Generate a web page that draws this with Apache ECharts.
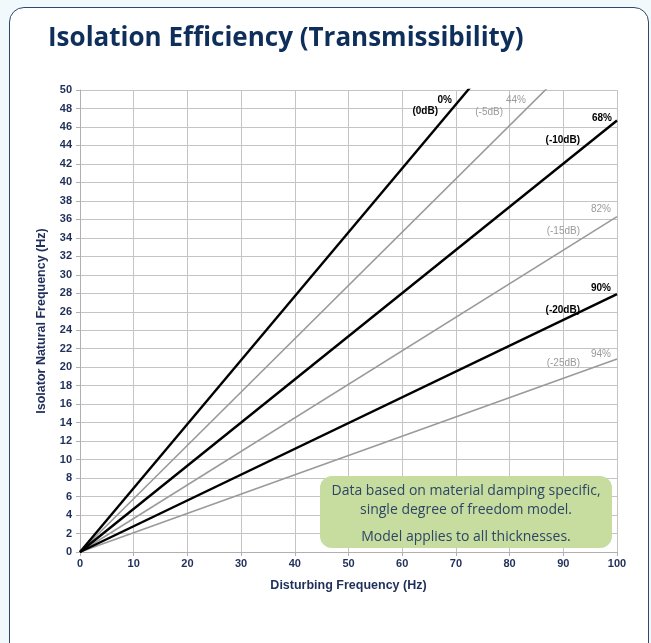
<!DOCTYPE html>
<html>
<head>
<meta charset="utf-8">
<script src="https://cdn.jsdelivr.net/npm/echarts@6/dist/echarts.min.js"></script>
<style>
  html, body { margin: 0; padding: 0; background: #f2f9fd; }
  #frame { position: absolute; left: 9px; top: 7px; width: 638px; height: 660px;
           border: 1.3px solid #2b4a6e; border-radius: 15px; background: #fff; }
  #main { position: absolute; left: 0; top: 0; width: 651px; height: 643px; }
</style>
</head>
<body>
<div id="frame"></div>
<div id="main"></div>
<script>
// 干扰频率 (Hz)
var xTicks = [0, 100];
// 各隔振效率曲线在 100Hz 处的固有频率值
var effNames = ['0%', '44%', '68%', '82%', '90%', '94%'];
var dbNames = ['(0dB)', '(-5dB)', '(-10dB)', '(-15dB)', '(-20dB)', '(-25dB)'];
var endValues = [69.2, 57.7, 46.7, 36.3, 27.9, 20.9];
var isDark = [true, false, true, false, true, false];
var noteLines = [
    'Data based on material damping specific,',
    'single degree of freedom model.',
    'Model applies to all thicknesses.'
];

var navy = '#1f2f5a';
var gray = '#9a9a9a';

var series = effNames.map(function (name, i) {
    return {
        name: name,
        type: 'line',
        symbol: 'none',
        clip: true,
        silent: true,
        lineStyle: { color: isDark[i] ? '#000' : gray, width: isDark[i] ? 2.4 : 1.6 },
        data: [[xTicks[0], 0], [xTicks[1], endValues[i]]],
        z: isDark[i] ? 4 : 3
    };
});

// 标注位置 (像素)
var labelPos = [
    { e: [452, 100], d: [438, 111] },
    { e: [526, 100], d: [503, 112] },
    { e: [612, 118], d: [580, 140] },
    { e: [611, 209], d: [580, 231] },
    { e: [611, 288], d: [580, 310] },
    { e: [611, 354], d: [580, 363] }
];
var graphics = [];
effNames.forEach(function (name, i) {
    var c = isDark[i] ? '#000' : gray;
    var fw = isDark[i] ? 'bold' : 'normal';
    graphics.push({ type: 'text', x: labelPos[i].e[0], y: labelPos[i].e[1], z: 10,
        style: { text: name, fill: c, font: fw + ' 10px "Liberation Sans", Arial', textAlign: 'right', textVerticalAlign: 'middle' } });
    graphics.push({ type: 'text', x: labelPos[i].d[0], y: labelPos[i].d[1], z: 10,
        style: { text: dbNames[i], fill: c, font: fw + ' 10px "Liberation Sans", Arial', textAlign: 'right', textVerticalAlign: 'middle' } });
});
graphics.push({ type: 'rect', shape: { x: 320, y: 476, width: 292, height: 72, r: 12 }, z: 20,
    style: { fill: '#c6dd9f' } });
var noteY = [491, 510, 537];
noteLines.forEach(function (t, i) {
    graphics.push({ type: 'text', x: 466, y: noteY[i], z: 21,
        style: { text: t, fill: '#2e4566', font: '14px "Open Sans", "Noto Sans", sans-serif', textAlign: 'center', textVerticalAlign: 'middle' } });
});

var myChart = echarts.init(document.getElementById('main'), null, { renderer: 'canvas' });
var option = {
    animation: false,
    title: {
        text: 'Isolation Efficiency (Transmissibility)',
        left: 43,
        top: 21,
        textStyle: { color: '#0f2f5b', fontSize: 26, fontWeight: 'bold', fontFamily: '"Open Sans", sans-serif' }
    },
    grid: { left: 80, right: 34, top: 90, bottom: 91 },
    xAxis: {
        type: 'value',
        min: 0, max: 100, interval: 10,
        name: 'Disturbing Frequency (Hz)',
        nameLocation: 'middle',
        nameGap: 27,
        nameTextStyle: { color: navy, fontWeight: 'bold', fontSize: 12.5, fontFamily: '"Liberation Sans", Arial' },
        axisLine: { show: true, lineStyle: { color: '#b0b0b0', width: 1 } },
        axisTick: { show: true, length: 4, lineStyle: { color: '#b0b0b0' } },
        axisLabel: { color: navy, fontWeight: 'bold', fontSize: 11, margin: 6, fontFamily: '"Liberation Sans", Arial' },
        splitLine: { show: true, lineStyle: { color: '#c4c4c4', width: 1 } }
    },
    yAxis: {
        type: 'value',
        min: 0, max: 50, interval: 2,
        name: 'Isolator Natural Frequency (Hz)',
        nameLocation: 'middle',
        nameGap: 32,
        nameTextStyle: { color: navy, fontWeight: 'bold', fontSize: 12.5, fontFamily: '"Liberation Sans", Arial' },
        axisLine: { show: true, lineStyle: { color: '#b0b0b0', width: 1 } },
        axisTick: { show: true, length: 4, lineStyle: { color: '#b0b0b0' } },
        axisLabel: { color: navy, fontWeight: 'bold', fontSize: 11, margin: 8, fontFamily: '"Liberation Sans", Arial' },
        splitLine: { show: true, lineStyle: { color: '#c4c4c4', width: 1 } }
    },
    series: series,
    graphic: graphics
};
myChart.setOption(option);
</script>
</body>
</html>
